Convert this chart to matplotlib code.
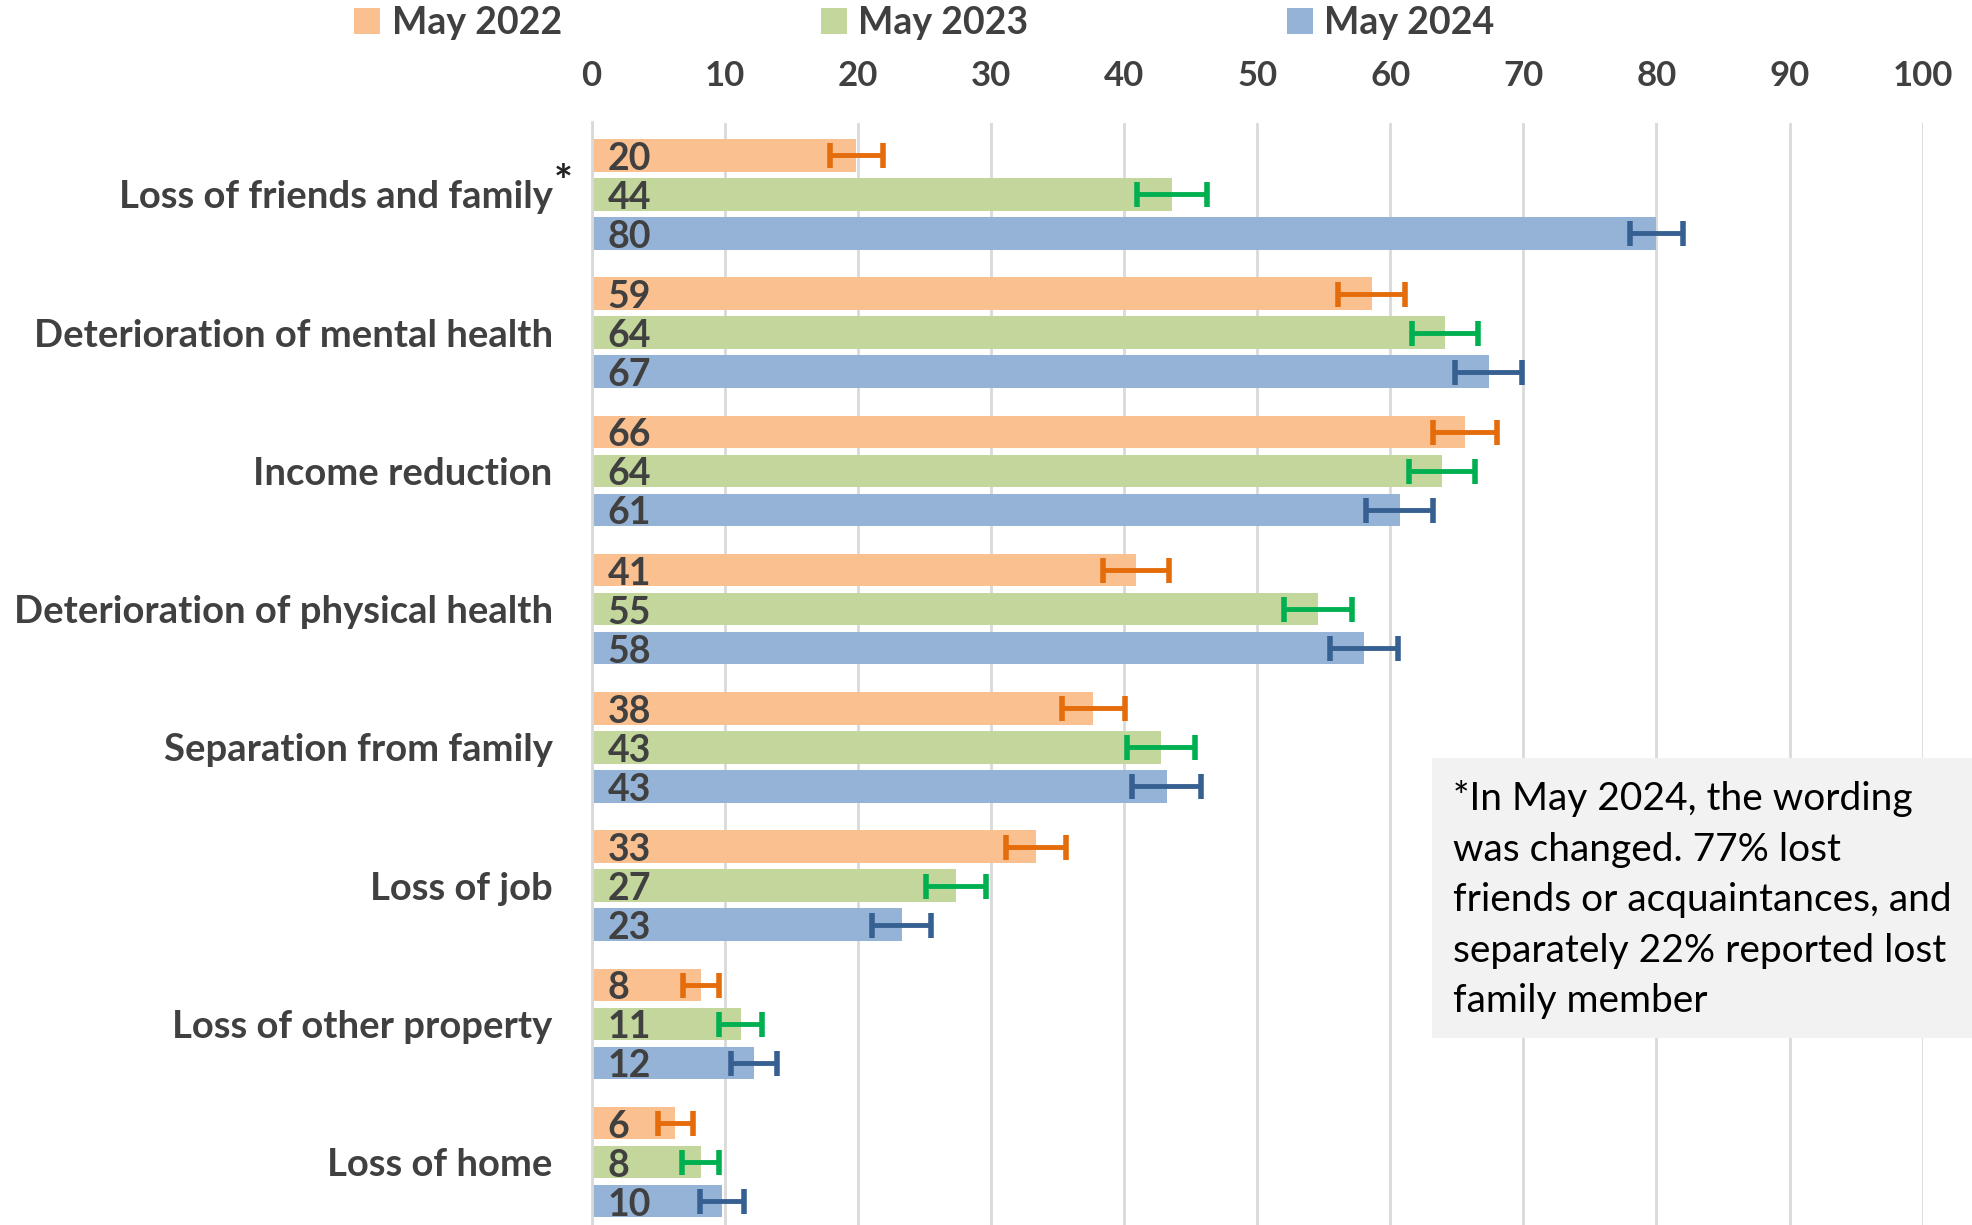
#!/usr/bin/env python3
"""Reasons for distress, May 2022-2024: grouped horizontal bars with error bars."""

import numpy as np
import matplotlib

matplotlib.use("Agg")
import matplotlib.pyplot as plt
from matplotlib.patches import Rectangle

categories = [
    "Loss of friends and family",
    "Deterioration of mental health",
    "Income reduction",
    "Deterioration of physical health",
    "Separation from family",
    "Loss of job",
    "Loss of other property",
    "Loss of home",
]
series_names = ["May 2022", "May 2023", "May 2024"]
may_2022 = [19.9, 58.6, 65.6, 40.9, 37.7, 33.4, 8.2, 6.3]
may_2023 = [43.6, 64.1, 63.9, 54.6, 42.8, 27.4, 11.2, 8.2]
may_2024 = [80.0, 67.4, 60.7, 58.0, 43.2, 23.3, 12.2, 9.8]
err_2022 = [2.0, 2.5, 2.4, 2.45, 2.35, 2.25, 1.35, 1.3]
err_2023 = [2.6, 2.5, 2.5, 2.55, 2.55, 2.25, 1.6, 1.4]
err_2024 = [2.0, 2.5, 2.5, 2.55, 2.6, 2.2, 1.75, 1.65]
note = ("*In May 2024, the wording\nwas changed. 77% lost\n"
        "friends or acquaintances, and\nseparately 22% reported lost\n"
        "family member")

bar_colors = ["#FAC090", "#C3D69B", "#95B3D7"]
err_colors = ["#E46C0A", "#00B050", "#376092"]
text_gray = "#404040"

plt.rcParams["font.family"] = ["Lato", "DejaVu Sans"]

fig = plt.figure(figsize=(19.72, 12.25), dpi=100)
ax = fig.add_axes([0.300, 0.0, 0.675, 0.900])

y = np.arange(len(categories))
step = 0.282
height = 0.236
values = [may_2022, may_2023, may_2024]
errors = [err_2022, err_2023, err_2024]
for i, (vals, errs) in enumerate(zip(values, errors)):
    pos = y + (i - 1) * step
    ax.barh(pos, vals, height=height, color=bar_colors[i], label=series_names[i], zorder=2)
    ax.errorbar(vals, pos, xerr=errs, fmt="none", ecolor=err_colors[i],
                elinewidth=3.5, capsize=9, capthick=4, zorder=3)
    for p, v in zip(pos, vals):
        ax.text(1.2, p + 0.025, f"{v:.0f}", ha="left", va="center", fontsize=27,
                fontweight="bold", color=text_gray, zorder=4)

ax.set_xlim(0, 100)
ax.set_ylim(7.455, -0.52)
ax.set_xticks(range(0, 101, 10))
ax.set_yticks(y)
ax.set_yticklabels(categories)
ax.xaxis.tick_top()
ax.tick_params(axis="x", length=0, pad=22, labelsize=25, labelcolor=text_gray)
ax.tick_params(axis="y", length=0, pad=28, labelsize=27.5, labelcolor=text_gray)
for lab in ax.get_xticklabels() + ax.get_yticklabels():
    lab.set_fontweight("bold")
ax.grid(axis="x", color="#D9D9D9", linewidth=2, zorder=0)
for side in ("top", "right", "bottom"):
    ax.spines[side].set_visible(False)
ax.spines["left"].set_color("#D9D9D9")
ax.spines["left"].set_linewidth(2)

# footnote marker on the first category
ax.text(-2.1, -0.08, "*", ha="center", va="center", fontsize=32,
        fontweight="bold", color="#222222", clip_on=False)

leg = ax.legend(loc="center", bbox_to_anchor=(0.25, 1.09), ncol=3, frameon=False,
                handlelength=0.7, handleheight=0.7, handletextpad=0.3,
                columnspacing=6.9, prop={"size": 27, "weight": "bold"})
for t in leg.get_texts():
    t.set_color(text_gray)

fig.add_artist(Rectangle((0.726, 0.1527), 0.274, 0.2285, transform=fig.transFigure,
                         facecolor="#F2F2F2", edgecolor="none", zorder=5))
fig.text(0.737, 0.363, note, ha="left", va="top", fontsize=28, color="black",
         linespacing=1.5, zorder=6)

fig.savefig("out.png", dpi=100)
